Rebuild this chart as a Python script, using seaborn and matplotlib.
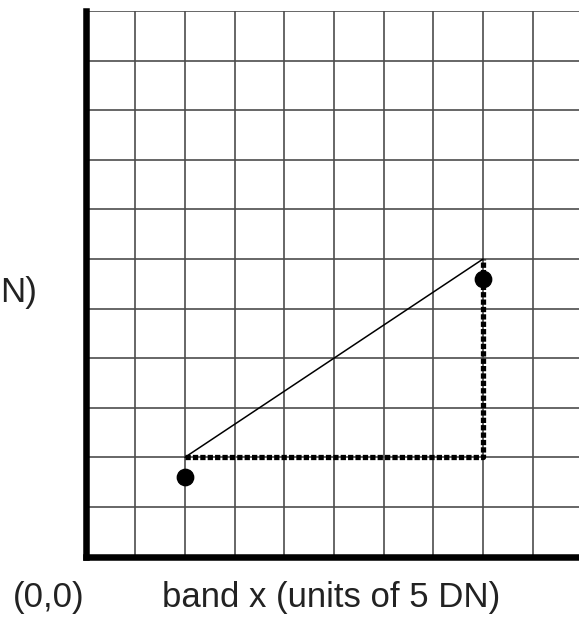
import matplotlib
matplotlib.use('Agg')
import matplotlib.pyplot as plt
import seaborn as sns

# two pixels plotted in band x / band y space (units of 5 DN)
point_x = [2, 8]
point_y = [1.6, 5.6]

# straight distance between them
diag_x = [2, 8]
diag_y = [2, 6]

# city-block path (dotted)
path_x = [2, 8, 8]
path_y = [2, 2, 6]

x_ticks = list(range(0, 10))
y_ticks = list(range(0, 12))

sns.set_style('white')
plt.rcParams['font.family'] = ['Liberation Sans', 'DejaVu Sans']

fig = plt.figure(figsize=(5.79, 6.2), dpi=100)
ax = fig.add_axes([0.1477, 0.1024, 0.8523, 0.8798])

sns.lineplot(x=diag_x, y=diag_y, ax=ax, color='black', linewidth=1.1,
             estimator=None, sort=False)
sns.lineplot(x=path_x, y=path_y, ax=ax, color='black', linewidth=3.8,
             linestyle=(0, (1, 0.4)), estimator=None, sort=False)
sns.scatterplot(x=point_x, y=point_y, ax=ax, color='black', s=140,
                edgecolor='black', zorder=5)

ax.set_xlim(0, 9.93)
ax.set_ylim(0, 11)
ax.set_xticks(x_ticks)
ax.set_yticks(y_ticks)
ax.tick_params(length=0, labelbottom=False, labelleft=False)
ax.grid(True, color='#4d4d4d', linewidth=1.2)
ax.set_axisbelow(True)

for side in ['top', 'right']:
    ax.spines[side].set_visible(False)
for side in ['left', 'bottom']:
    ax.spines[side].set_linewidth(4.7)
    ax.spines[side].set_color('black')

# labels (the y label is cropped in the source, only its tail shows)
fig.text(162 / 579, 1 - 607 / 620, 'band x (units of 5 DN)', fontsize=25,
         ha='left', va='baseline', color='#222222')
fig.text(13 / 579, 1 - 607 / 620, '(0,0)', fontsize=25,
         ha='left', va='baseline', color='#222222')
fig.text(37 / 579, 1 - 302 / 620, 'N)', fontsize=25,
         ha='right', va='baseline', color='#222222')

fig.savefig('out.png', dpi=100)
